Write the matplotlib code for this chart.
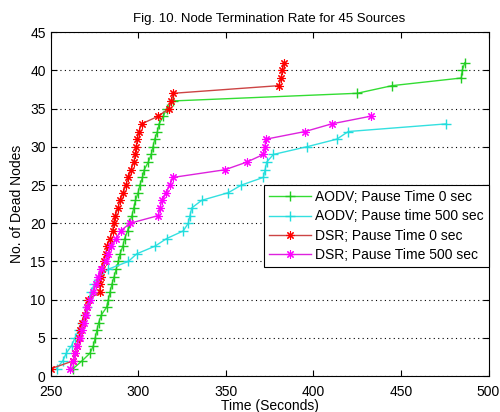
import matplotlib.pyplot as plt

plt.rcParams['font.family'] = ['Liberation Sans', 'DejaVu Sans']

# Number of dead nodes (1 .. N) and the time each one died
aodv0_t = [263, 268, 272.5, 274.5, 275.5, 276.5, 277.5, 279, 282, 283, 284, 285,
           286.3, 287.5, 288.7, 289.7, 291.3, 292.3, 294, 295, 296.5, 297.5, 298.5,
           300, 301, 302.5, 303.5, 305.8, 307.5, 308.5, 309.5, 311, 312, 314.4,
           316.3, 320, 425, 445, 484.5, 485, 486.5]
aodv0_n = list(range(1, len(aodv0_t) + 1))

aodv500_t = [253.5, 257, 259, 262, 264, 266, 268, 269.5, 271, 272, 273, 275,
             278, 283, 294.4, 299.2, 309.6, 316.3, 325.8, 328.6, 329.6, 330.6,
             336.3, 351.5, 359, 371.5, 372.5, 373.4, 377.2, 396.2, 413.4, 420, 476]
aodv500_n = list(range(1, len(aodv500_t) + 1))

dsr0_t = [250.5, 263, 264, 265, 266, 267, 268, 269.5, 270.6, 271.6, 278, 278.3,
          278.8, 279.2, 280.5, 281.5, 282.5, 284, 285.5, 286, 287, 288.5, 289.7,
          291.5, 293, 294.5, 296, 297.5, 298.5, 299, 299.5, 300.5, 302, 311.5,
          317.5, 319, 320, 380.3, 381.7, 382.3, 383.4]
dsr0_n = list(range(1, len(dsr0_t) + 1))

dsr500_t = [261, 263, 264, 265, 267, 268, 269, 270, 271, 272.5, 274.4, 276,
            277.3, 279, 281.5, 283, 284.5, 287.5, 290, 295.4, 311.5, 312.5, 313.5,
            316, 318, 320, 349.6, 362, 371.5, 372.4, 373, 395.3, 410.5, 432.7]
dsr500_n = list(range(1, len(dsr500_t) + 1))

fig = plt.figure(figsize=(5.0, 4.12), dpi=100)
ax = fig.add_axes([0.101, 0.087, 0.876, 0.835])

ast = (8, 2, 0)  # matlab-style asterisk
ax.plot(aodv0_t, aodv0_n, color='#33dd33', lw=1, marker='+', ms=7,
        mec='#22cc22', label='AODV; Pause Time 0 sec')
ax.plot(aodv500_t, aodv500_n, color='#33e0e0', lw=1, marker='+', ms=7,
        mec='#22dddd', label='AODV; Pause time 500 sec')
ax.plot(dsr0_t, dsr0_n, color='#cc4444', lw=1, marker=ast, ms=6, mew=0.8,
        mec='#ff0000', label='DSR; Pause Time 0 sec')
ax.plot(dsr500_t, dsr500_n, color='#dd22dd', lw=1, marker=ast, ms=6, mew=0.8,
        mec='#ff00ff', label='DSR; Pause Time 500 sec')

ax.set_xlim(250, 500)
ax.set_ylim(0, 45)
ax.set_xticks(range(250, 501, 50))
ax.set_yticks(range(0, 46, 5))
ax.tick_params(direction='in', top=True, right=True, length=4, labelsize=10)
ax.tick_params(axis='x', pad=6.5)
ax.yaxis.grid(True, linestyle=(0, (1, 3)), color='black', lw=0.8)
for s in ax.spines.values():
    s.set_linewidth(0.8)

ax.set_xlabel('Time (Seconds)', fontsize=10, labelpad=0)
ax.set_ylabel('No. of Dead Nodes', fontsize=10)
ax.set_title('Fig. 10. Node Termination Rate for 45 Sources', fontsize=9.5, pad=7)

leg = ax.legend(loc='upper right', bbox_to_anchor=(1.0, 0.555), fontsize=10,
                fancybox=False, framealpha=1, edgecolor='black',
                borderaxespad=0, handlelength=3, borderpad=0.35, labelspacing=0.38,
                handletextpad=0.3)
leg.get_frame().set_linewidth(0.8)

fig.savefig('out.png', dpi=100)
